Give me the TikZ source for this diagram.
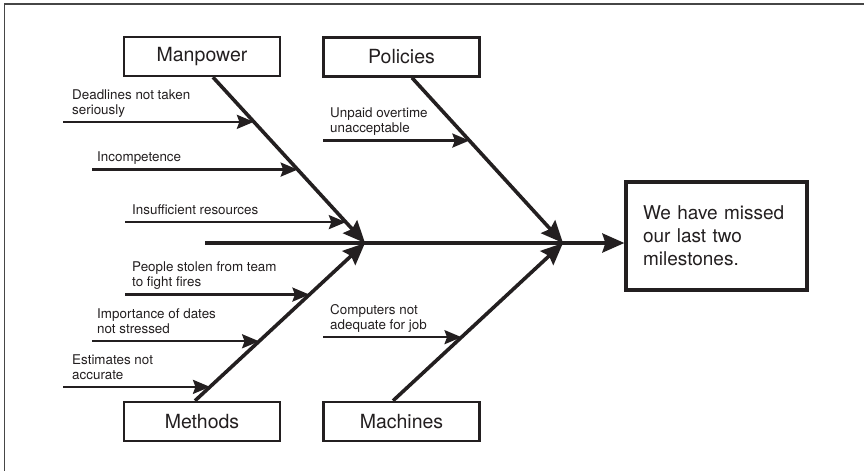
\documentclass[tikz,border=0pt]{standalone}
\usepackage{fontspec}
\setmainfont{TeX Gyre Heros}
\usetikzlibrary{arrows.meta,calc}
\definecolor{ink}{RGB}{35,31,32}
\definecolor{frame}{RGB}{70,70,70}
\begin{document}
\begin{tikzpicture}[x=1pt,y=-1pt,
  cause/.style={draw=ink, line width=2.5pt, minimum width=156pt, minimum height=39pt,
    inner sep=0pt, font=\fontsize{19.5}{23}\selectfont, text=ink},
  effect/.style={draw=ink, line width=3.2pt, minimum width=181pt, minimum height=108pt,
    text width=147pt, align=left, inner xsep=17pt, inner ysep=0pt,
    font=\fontsize{19}{23}\selectfont, text=ink},
  bone/.style={draw=ink, line width=3.6pt, -{Stealth[length=22pt,width=19pt,inset=3pt]}},
  sub/.style={draw=ink, line width=2.4pt, -{Stealth[length=17pt,width=14pt,inset=2.5pt]}},
  sublabel/.style={anchor=south west, inner sep=0pt, align=left,
    font=\fontsize{13.4}{15}\selectfont, text=ink}]
\useasboundingbox (0,0) rectangle (864,471);
\draw[frame, line width=1.3pt] (864,4) -- (4.5,4) -- (4.5,471);

% boxes
\node[cause] (man)  at (202,56.5)   {Manpower};
\node[cause] (pol)  at (401.5,57)   {Policies};
\node[cause] (meth) at (202,421.5)  {Methods};
\node[cause] (mach) at (401.5,421.5){Machines};
\node[effect] (eff) at (716.5,236)  {We have missed\\our last two\\milestones.};

% junctions and bone ends
\coordinate (j1) at (365,243);
\coordinate (j2) at (563,243);
\coordinate (tail) at (205,243);
\coordinate (mpS) at ([xshift=11pt]man.south);
\coordinate (poS) at ([xshift=10.5pt]pol.south);
\coordinate (meS) at ([xshift=-7pt]meth.north);
\coordinate (maS) at ([xshift=-8.5pt]mach.north);
\coordinate (xa) at (63,0);
\coordinate (xb) at (92,0);
\coordinate (xc) at (125,0);
\coordinate (xd) at (323,0);

% spine and bones
\draw[bone] (tail) -- (tail -| eff.west);
\draw[bone] (mpS) -- (j1);
\draw[bone] (meS) -- (j1);
\draw[bone] (poS) -- (j2);
\draw[bone] (maS) -- (j2);

% sub-cause tips on the bones
\coordinate (d1) at ($(mpS)!0.269!(j1)$);
\coordinate (d2) at ($(mpS)!0.557!(j1)$);
\coordinate (d3) at ($(mpS)!0.874!(j1)$);
\coordinate (d4) at ($(meS)!0.673!(j1)$);
\coordinate (d5) at ($(meS)!0.377!(j1)$);
\coordinate (d6) at ($(meS)!0.088!(j1)$);
\coordinate (d7) at ($(poS)!0.380!(j2)$);
\coordinate (d8) at ($(maS)!0.403!(j2)$);

\coordinate (s1) at (d1 -| xa);
\coordinate (s2) at (d2 -| xb);
\coordinate (s3) at (d3 -| xc);
\coordinate (s4) at (d4 -| xc);
\coordinate (s5) at (d5 -| xb);
\coordinate (s6) at (d6 -| xa);
\coordinate (s7) at (d7 -| xd);
\coordinate (s8) at (d8 -| xd);

\draw[sub] (s1) -- (d1);
\draw[sub] (s2) -- (d2);
\draw[sub] (s3) -- (d3);
\draw[sub] (s4) -- (d4);
\draw[sub] (s5) -- (d5);
\draw[sub] (s6) -- (d6);
\draw[sub] (s7) -- (d7);
\draw[sub] (s8) -- (d8);

\node[sublabel] (l1) at ([shift={(9pt,3pt)}]s1) {Deadlines not taken\\seriously\strut};
\node[sublabel] (l2) at ([shift={(5pt,3pt)}]s2) {Incompetence\strut};
\node[sublabel] (l3) at ([shift={(7pt,3pt)}]s3) {Insufficient resources\strut};
\node[sublabel] (l4) at ([shift={(7pt,3pt)}]s4) {People stolen from team\\to fight fires\strut};
\node[sublabel] (l5) at ([shift={(5pt,3pt)}]s5) {Importance of dates\\not stressed\strut};
\node[sublabel] (l6) at ([shift={(9pt,3pt)}]s6) {Estimates not\\accurate\strut};
\node[sublabel] (l7) at ([shift={(7pt,3pt)}]s7) {Unpaid overtime\\unacceptable\strut};
\node[sublabel] (l8) at ([shift={(7pt,3pt)}]s8) {Computers not\\adequate for job\strut};
\end{tikzpicture}
\end{document}
